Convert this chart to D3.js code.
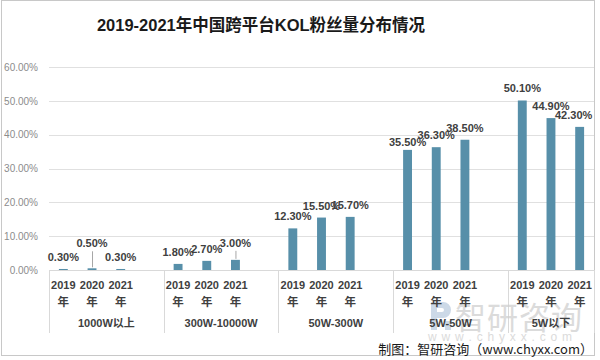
<!DOCTYPE html>
<html><head><meta charset="utf-8">
<script src="https://cdn.jsdelivr.net/npm/d3@7"></script>
<style>
html,body{margin:0;padding:0;background:#fff;}
svg{display:block;}
</style></head>
<body>
<svg id="chart" width="600" height="360"></svg>
<script>
// ---- data ----
const groups = ["1000W以上", "300W-10000W", "50W-300W", "5W-50W", "5W以下"];
const years = ["2019", "2020", "2021"];
const values2019 = [0.003, 0.018, 0.123, 0.355, 0.501];
const values2020 = [0.005, 0.027, 0.155, 0.363, 0.449];
const values2021 = [0.003, 0.030, 0.157, 0.385, 0.423];
const yTicks = [0, 0.1, 0.2, 0.3, 0.4, 0.5, 0.6];
const title = "2019-2021年中国跨平台KOL粉丝量分布情况";
const source = "制图：智研咨询（www.chyxx.com）";

(function () {
const seriesValues = [values2019, values2020, values2021];
const rows = [];
groups.forEach((g, gi) => years.forEach((yr, yi) => rows.push({group: g, gi, year: yr, yi, value: seriesValues[yi][gi], key: g + "|" + yr})));

// slots: 3 year slots per group plus a blank slot between groups
const slots = [];
groups.forEach((g, gi) => {
  years.forEach(yr => slots.push(g + "|" + yr));
  if (gi < groups.length - 1) slots.push("gap" + gi);
});

const svg = d3.select("#chart");
const pLeft = 49, pRight = 594, pTop = 67, pBottom = 270;
const x = d3.scaleBand().domain(slots).range([pLeft, pRight]).paddingInner(0.69).paddingOuter(0.345);
const y = d3.scaleLinear().domain([0, 0.6]).range([pBottom, pTop]);
const step = x.step();

// outer border
svg.append("rect").attr("x", 1.5).attr("y", 0.5).attr("width", 593).attr("height", 355)
  .attr("fill", "none").attr("stroke", "#c8c8c8").attr("stroke-width", 1);

// title
svg.append("text").attr("x", 261).attr("y", 31).attr("text-anchor", "middle")
  .attr("font-family", "'Liberation Sans','Noto Sans CJK SC',sans-serif")
  .attr("font-weight", "bold").attr("font-size", 16.5).attr("fill", "#1a1a1a").text(title);

// gridlines
svg.append("g").selectAll("line").data(yTicks.slice(1)).join("line")
  .attr("x1", pLeft).attr("x2", pRight).attr("y1", d => Math.round(y(d)) + 0.5).attr("y2", d => Math.round(y(d)) + 0.5)
  .attr("stroke", "#e0e0e0").attr("stroke-width", 1);

// y axis
const yAxis = svg.append("g").attr("transform", `translate(${pLeft - 11},0)`)
  .call(d3.axisLeft(y).tickValues(yTicks).tickFormat(d3.format(".2%")).tickSize(0).tickPadding(0));
yAxis.select(".domain").remove();
yAxis.selectAll("text").attr("font-family", "'Liberation Sans',sans-serif").attr("font-size", 10)
  .attr("fill", "#8c8c8c");

// bars
svg.append("g").selectAll("rect").data(rows).join("rect")
  .attr("x", d => x(d.key)).attr("width", x.bandwidth())
  .attr("y", d => y(d.value)).attr("height", d => y(0) - y(d.value))
  .attr("fill", "#578fa9");

// x axis baseline and separators
svg.append("line").attr("x1", pLeft).attr("x2", pRight).attr("y1", pBottom + 0.5).attr("y2", pBottom + 0.5)
  .attr("stroke", "#d9d9d9");
const boundaries = groups.map((g, gi) => pLeft + gi * 4 * step).concat([pRight]);
svg.append("g").selectAll("line").data(boundaries).join("line")
  .attr("x1", d => Math.round(d) + 0.5).attr("x2", d => Math.round(d) + 0.5)
  .attr("y1", pBottom).attr("y2", 333).attr("stroke", "#d9d9d9");

// watermark (behind the axis texts)
const wm = svg.append("g").attr("opacity", 0.75);
wm.append("path").attr("d", "M431,302 h12 a8,8 0 0 1 0,16 h-6 v12 h-6 z M437,308 v4 h5 a2,2 0 0 0 0,-4 z")
  .attr("fill", "#bccde0").attr("fill-rule", "evenodd");
wm.append("rect").attr("x", 445).attr("y", 321).attr("width", 6).attr("height", 9).attr("fill", "#bccde0");
wm.append("text").attr("x", 455).attr("y", 329).attr("font-family", "'Noto Sans CJK SC',sans-serif")
  .attr("font-size", 31).attr("fill", "#cfcfcf").attr("textLength", 127).text("智研咨询");
wm.append("text").attr("x", 428).attr("y", 341).attr("font-family", "'Liberation Sans',sans-serif")
  .attr("font-size", 12).attr("fill", "#cfcfcf").attr("textLength", 144).text("w w w . c h y x x . c o m");

const textFont = "'Liberation Sans','Noto Sans CJK SC',sans-serif";
// year labels
const yl = svg.append("g");
yl.selectAll("text.yr").data(rows).join("text").attr("class", "yr")
  .attr("x", d => x(d.key) + x.bandwidth() / 2).attr("y", 289).attr("text-anchor", "middle")
  .attr("font-family", textFont).attr("font-weight", "bold").attr("font-size", 11).attr("fill", "#404040")
  .text(d => d.year);
yl.selectAll("text.nian").data(rows).join("text").attr("class", "nian")
  .attr("x", d => x(d.key) + x.bandwidth() / 2).attr("y", 306).attr("text-anchor", "middle")
  .attr("font-family", "'Noto Sans CJK SC',sans-serif").attr("font-weight", "bold").attr("font-size", 11.5).attr("fill", "#404040")
  .text("年");

// group labels
svg.append("g").selectAll("text").data(groups).join("text")
  .attr("x", (g, gi) => (boundaries[gi] + boundaries[gi + 1]) / 2).attr("y", 327).attr("text-anchor", "middle")
  .attr("font-family", textFont).attr("font-weight", "bold").attr("font-size", 11).attr("fill", "#404040")
  .text(g => g);

// data labels
const nudge = {
  "1000W以上|2020": {dx: 0, dy: -13, leader: true},
  "300W-10000W|2021": {dx: 0, dy: -5, leader: true},
  "5W-50W|2019": {dx: 0, dy: 4},
  "5W以下|2021": {dx: -6, dy: 0}
};
const lbl = svg.append("g");
rows.forEach(d => {
  const n = nudge[d.key] || {dx: 0, dy: 0};
  const cx = x(d.key) + x.bandwidth() / 2;
  const ty = y(d.value) - 8 + n.dy;
  if (n.leader) {
    lbl.append("line").attr("x1", cx + 0.5).attr("x2", cx + 0.5).attr("y1", ty + 4).attr("y2", y(d.value) - 1)
      .attr("stroke", "#a6a6a6");
  }
  lbl.append("text").attr("x", cx + n.dx).attr("y", ty).attr("text-anchor", "middle")
    .attr("font-family", textFont).attr("font-weight", "bold").attr("font-size", 11).attr("fill", "#404040")
    .text(d3.format(".2%")(d.value));
});

// source
svg.append("text").attr("x", 593).attr("y", 354).attr("text-anchor", "end")
  .attr("font-family", "'Noto Sans CJK SC',sans-serif").attr("font-size", 13).attr("fill", "#1a1a1a")
  .text(source);
})();
</script>
</body></html>
